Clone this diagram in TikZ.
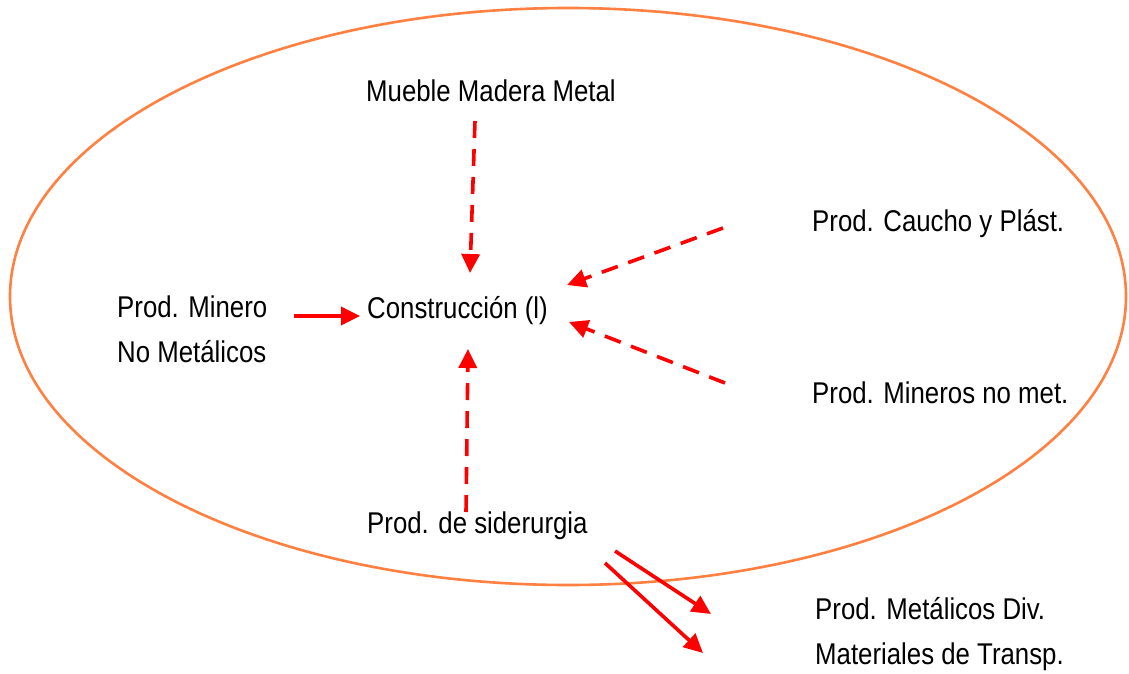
\documentclass[tikz,border=0pt]{standalone}
\usepackage{fontspec}
\setmainfont{Liberation Sans}[FakeStretch=0.86]
\usetikzlibrary{arrows.meta}
\definecolor{ellorange}{RGB}{255,128,64}
\definecolor{arrred}{RGB}{255,0,0}
\tikzset{
  lbl/.style={anchor=base west, inner sep=0pt, font=\fontsize{30}{45}\selectfont, align=left},
  flow/.style={draw=arrred, line width=3.6pt, -{Triangle[length=19pt,width=18pt]}},
  dflow/.style={flow, dash pattern=on 17pt off 11pt},
}
\begin{document}
\begin{tikzpicture}[x=1pt,y=-1pt]
\useasboundingbox (0,0) rectangle (1129,674);
\fill[white] (0,0) rectangle (1129,674);
\draw[ellorange, line width=2.6pt] (568,296.5) ellipse [x radius=558, y radius=288.5];

\node[lbl] (mueble) at (366,102) {Mueble Madera Metal};
\node[lbl] (constr) at (367,318) {Construcción (l)};
\node[lbl] (minero) at (117,362) {Prod. Minero\\No Metálicos};
\node[lbl] (caucho) at (812,231) {Prod. Caucho y Plást.};
\node[lbl] (mineros) at (812,403) {Prod. Mineros no met.};
\node[lbl] (sider) at (367,533) {Prod. de siderurgia};
\node[lbl] (metal) at (815,664) {Prod. Metálicos Div.\\Materiales de Transp.};

\coordinate (a1s) at (475,121);
\coordinate (a1e) at (470,273);
\coordinate (a2s) at (294,316);
\coordinate (a2e) at (360,316);
\coordinate (a3s) at (466,512);
\coordinate (a3e) at (468,349);
\coordinate (a4s) at (723,228);
\coordinate (a4e) at (567,285);
\coordinate (a5s) at (725,383);
\coordinate (a5e) at (569,322);
\coordinate (a6s) at (615,551);
\coordinate (a6e) at (711,614);
\coordinate (a7s) at (605,563);
\coordinate (a7e) at (703,653);

\draw[dflow] (a1s) -- (a1e);
\draw[flow] (a2s) -- (a2e);
\draw[dflow] (a3s) -- (a3e);
\draw[dflow] (a4s) -- (a4e);
\draw[dflow] (a5s) -- (a5e);
\draw[flow] (a6s) -- (a6e);
\draw[flow] (a7s) -- (a7e);
\end{tikzpicture}
\end{document}
